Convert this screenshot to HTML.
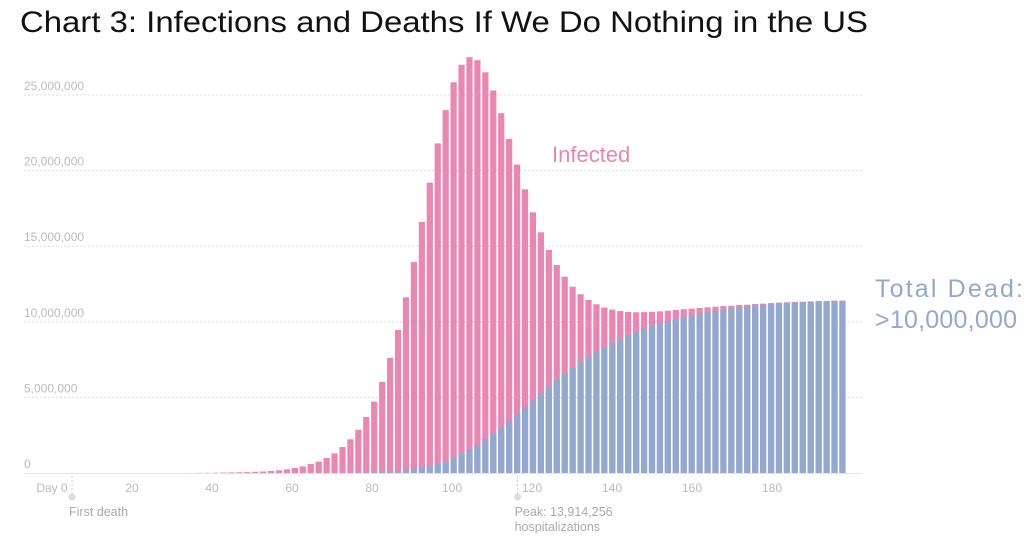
<!DOCTYPE html>
<html><head><meta charset="utf-8"><style>
html,body{margin:0;padding:0;background:#fff;width:1024px;height:537px;overflow:hidden}
svg{display:block;font-family:"Liberation Sans",sans-serif}
</style></head><body>
<svg id="chart" width="1024" height="537" viewBox="0 0 1024 537" xmlns="http://www.w3.org/2000/svg">
<text x="20" y="32" font-size="30" fill="#111" textLength="848" lengthAdjust="spacingAndGlyphs">Chart 3: Infections and Deaths If We Do Nothing in the US</text>
<g id="grid"></g><g id="bars"></g><g id="xaxis"></g>
<text x="552" y="162" font-size="22" fill="#E986B0">Infected</text>
<text x="875" y="297" font-size="25" fill="#92A8D1" textLength="148" lengthAdjust="spacing">Total Dead:</text>
<text x="875" y="328" font-size="25" fill="#92A8D1" textLength="142" lengthAdjust="spacing">&gt;10,000,000</text>
</svg>
<script>
const days = [];
for (let d = 0; d <= 198; d += 2) days.push(d);
const infected = [0,0,0,0,0,0,0,0,0,0,0,0,0,0,0,0,0.002,0.005,0.01,0.015,0.02,0.03,0.04,0.05,0.06,0.08,0.10,0.13,0.18,0.24,0.33,0.44,0.60,0.75,0.99,1.30,1.72,2.23,2.86,3.70,4.72,6.02,7.61,9.46,11.62,13.95,16.6,19.2,21.8,24.0,25.84,27.0,27.5,27.3,26.5,25.3,23.8,22.1,20.4,18.76,17.24,15.92,14.75,13.76,12.98,12.32,11.82,11.44,11.16,10.94,10.81,10.71,10.65,10.63,10.64,10.66,10.69,10.73,10.78,10.83,10.87,10.91,10.96,11.0,11.04,11.06,11.11,11.13,11.18,11.2,11.24,11.27,11.29,11.31,11.33,11.35,11.38,11.38,11.4,11.4];
const dead = [0,0,0,0,0,0,0,0,0,0,0,0,0,0,0,0,0,0,0,0,0,0,0,0,0,0,0,0,0,0,0,0,0,0,0,0,0.01,0.02,0.03,0.04,0.05,0.07,0.09,0.13,0.2,0.26,0.37,0.48,0.62,0.78,1.0,1.26,1.54,1.85,2.23,2.58,3.0,3.44,3.88,4.34,4.81,5.27,5.71,6.15,6.59,6.97,7.34,7.69,8.02,8.33,8.62,8.87,9.13,9.36,9.56,9.74,9.91,10.06,10.2,10.34,10.45,10.56,10.65,10.73,10.83,10.89,10.96,11.0,11.06,11.11,11.16,11.2,11.24,11.27,11.29,11.31,11.33,11.35,11.38,11.38,11.4,11.4];
const yTicks = [0,5,10,15,20,25];
const yTickLabels = ["0","5,000,000","10,000,000","15,000,000","20,000,000","25,000,000"];
const xTicks = [0,20,40,60,80,100,120,140,160,180];
const xTickLabels = ["Day 0","20","40","60","80","100","120","140","160","180"];
const NS="http://www.w3.org/2000/svg";
const x = d => 52 + 4*d;           // day -> px (axis)
const xb = d => 56.8 + 3.968*d;     // day -> bar centre px
const y = v => 473 - v*15.12;       // millions -> px
function mk(tag, attrs, parent, text){const e=document.createElementNS(NS,tag);for(const k in attrs)e.setAttribute(k,attrs[k]);if(text!==undefined)e.textContent=text;parent.appendChild(e);return e;}
const grid=document.getElementById('grid'),bars=document.getElementById('bars'),xa=document.getElementById('xaxis');
yTicks.forEach((t,i)=>{
  if(t>0){const l=mk('line',{x1:24,x2:862,y1:y(t),y2:y(t),stroke:'#ddd','stroke-dasharray':'2,2'},grid);
  
  }
  const tx=mk('text',{x:24,y:y(t)-5,'font-size':12,fill:'#bbb'},grid,yTickLabels[i]);
  
  
});
days.forEach((d,i)=>{
  const cx=xb(d), w=6.2;
  if(infected[i]>0){const r=mk('rect',{x:cx-w/2,y:y(infected[i]),width:w,height:473-y(infected[i]),fill:'#EA86B1'},bars);
  
  }
  if(dead[i]>0){const r=mk('rect',{x:cx-w/2,y:y(dead[i]),width:w,height:473-y(dead[i]),fill:'#91A9D0'},bars);
  
  }
});
const base=mk('line',{x1:24,x2:862,y1:473.5,y2:473.5,stroke:'#e4e4e4'},xa);


xTicks.forEach((t,i)=>{
  const tx=mk('text',{x:x(t),y:492,'font-size':12,fill:'#bbb','text-anchor':'middle'},xa,xTickLabels[i]);
  
  
});
[[5,'First death',null],[116.4,'Peak: 13,914,256','hospitalizations']].forEach(a=>{
  const px=x(a[0]);
  const g=mk('g',{},xa);
  
  
  mk('line',{x1:px,x2:px,y1:476,y2:495,stroke:'#ccc','stroke-dasharray':'2,2'},g);
  mk('circle',{cx:px,cy:497,r:3.5,fill:'#ddd'},g);
  mk('text',{x:px-3,y:516,'font-size':12.5,fill:'#aaa'},g,a[1]);
  if(a[2])mk('text',{x:px-3,y:531,'font-size':12.5,fill:'#aaa'},g,a[2]);
});
</script>
</body></html>
